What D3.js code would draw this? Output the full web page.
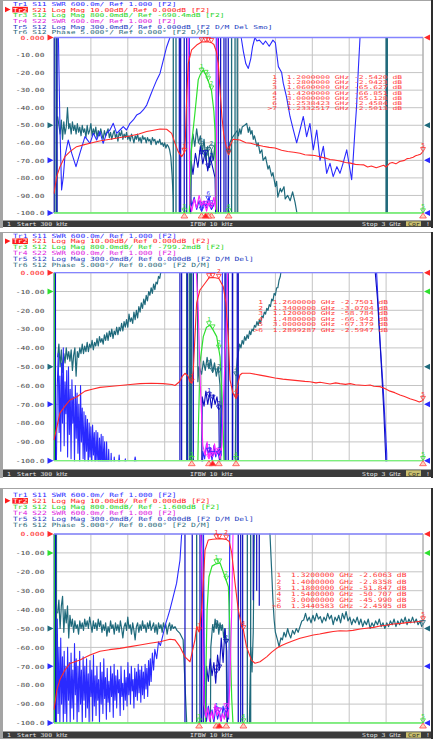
<!DOCTYPE html>
<html><head><meta charset="utf-8">
<script src="https://d3js.org/d3.v7.min.js"></script>
<style>
html,body{margin:0;padding:0;background:#fff;}
svg{display:block;}
text{font-family:"DejaVu Sans Mono","Liberation Mono",monospace;white-space:pre;}
</style></head><body>
<svg id="chart" width="439" height="742"></svg>
<script>
// ---------------- DATA ----------------
const xDomain = [0.0003, 3.0];               // GHz
const yTicks = [0,-10,-20,-30,-40,-50,-60,-70,-80,-90,-100];
const yTickLabels = ["0.000","-10.00","-20.00","-30.00","-40.00","-50.00","-60.00","-70.00","-80.00","-90.00","-100.0"];
const statusTexts = ["1","Start 300 kHz","IFBW 10 kHz","Stop 3 GHz","Cor","!"];

const hdr1 = ["Tr1 S11 SWR 600.0m/ Ref 1.000 [F2]",
 "Tr2 S21 Log Mag 10.00dB/ Ref 0.000dB [F2]",
 "Tr3 S12 Log Mag 800.0mdB/ Ref -690.4mdB [F2]",
 "Tr4 S22 SWR 600.0m/ Ref 1.000 [F2]",
 "Tr5 S12 Log Mag 300.0mdB/ Ref 0.000dB [F2 D/M Del Smo]",
 "Tr6 S12 Phase 5.000\u00b0/ Ref 0.000\u00b0 [F2 D/M]"];
const hdr2 = ["Tr1 S11 SWR 600.0m/ Ref 1.000 [F2]",
 "Tr2 S21 Log Mag 10.00dB/ Ref 0.000dB [F2]",
 "Tr3 S12 Log Mag 800.0mdB/ Ref -799.2mdB [F2]",
 "Tr4 S22 SWR 600.0m/ Ref 1.000 [F2]",
 "Tr5 S12 Log Mag 300.0mdB/ Ref 0.000dB [F2 D/M Del]",
 "Tr6 S12 Phase 5.000\u00b0/ Ref 0.000\u00b0 [F2 D/M]"];
const hdr3 = ["Tr1 S11 SWR 600.0m/ Ref 1.000 [F2]",
 "Tr2 S21 Log Mag 10.00dB/ Ref 0.000dB [F2]",
 "Tr3 S12 Log Mag 800.0mdB/ Ref -1.600dB [F2]",
 "Tr4 S22 SWR 600.0m/ Ref 1.000 [F2]",
 "Tr5 S12 Log Mag 300.0mdB/ Ref 0.000dB [F2 D/M Del]",
 "Tr6 S12 Phase 5.000\u00b0/ Ref 0.000\u00b0 [F2 D/M]"];

// marker tables
const p1MkF = [1.2,1.28,1.06,1.42,3.0,1.2538423,1.2332517];
const p1MkV = [-2.5420,-2.9423,-65.627,-66.851,-65.128,-2.4584,-2.5013];
const p2MkF = [1.26,1.34,1.12,1.48,3.0,1.2899287];
const p2MkV = [-2.7501,-3.0704,-58.784,-66.942,-67.379,-2.5947];
const p3MkF = [1.32,1.40,1.18,1.54,3.0,1.3440583];
const p3MkV = [-2.6063,-2.8358,-51.847,-50.707,-45.990,-2.4595];

// ---------- Panel 1 ----------
const p1S21 = [[0.0003,-89],[0.022,-79.3],[0.049,-73.6],[0.089,-67.9],[0.13,-65],[0.184,-62.2],[0.24,-61.2],[0.293,-60.3],[0.37,-59],[0.455,-58],[0.54,-57],[0.618,-56.1],[0.69,-55],[0.754,-53.6],[0.81,-52.8],[0.862,-52.1],[0.916,-52.3],[0.957,-54.6],[0.984,-60.3],[1.01,-65],[1.038,-67.9],[1.06,-65.6],[1.068,-58.4],[1.079,-33.7],[1.092,-14.7],[1.119,-7.1],[1.16,-4.3],[1.2,-2.54],[1.233,-2.5],[1.254,-2.46],[1.28,-2.94],[1.30,-4],[1.32,-8],[1.336,-14.7],[1.35,-30],[1.365,-45],[1.38,-55],[1.40,-62],[1.42,-66.85],[1.43,-62],[1.455,-58],[1.512,-58.4],[1.56,-60],[1.60,-60.3],[1.634,-61],[1.70,-62],[1.75,-62.6],[1.797,-63],[1.85,-64.2],[1.90,-65],[1.95,-65.4],[2.0,-66],[2.04,-66.8],[2.081,-67],[2.12,-67.2],[2.163,-68],[2.2,-68.6],[2.244,-69.5],[2.28,-69.8],[2.325,-70.4],[2.37,-71.2],[2.41,-71.6],[2.45,-72.3],[2.49,-72.5],[2.52,-72.6],[2.55,-73.8],[2.58,-73.2],[2.62,-74.2],[2.65,-73.5],[2.68,-72.8],[2.70,-73.8],[2.73,-71.6],[2.75,-71.2],[2.78,-72.0],[2.81,-70.7],[2.85,-70.0],[2.87,-69.0],[2.894,-68.8],[2.92,-68.2],[2.94,-67.4],[2.96,-67],[2.98,-66.5],[3.0,-65.1]];
const p1Phase = [[0.03,-45],[0.04,-50],[0.05,-55],[0.06,-47],[0.07,-58],[0.08,-48],[0.09,-55],[0.10,-51],[0.11,-40],[0.12,-52],[0.13,-49],[0.14,-55],[0.15,-48],[0.16,-53],[0.17,-50],[0.18,-55],[0.19,-49],[0.20,-54],[0.21,-51],[0.22,-56],[0.23,-50],[0.24,-54],[0.25,-52],[0.26,-57],[0.27,-50],[0.28,-55],[0.29,-53],[0.30,-49],[0.31,-56],[0.32,-52],[0.33,-55],[0.34,-51],[0.35,-57],[0.36,-53],[0.37,-56],[0.38,-52],[0.39,-55],[0.40,-58],[0.41,-53],[0.42,-56],[0.43,-54],[0.44,-52],[0.45,-57],[0.46,-54],[0.47,-58],[0.48,-55],[0.49,-53],[0.50,-57],[0.51,-55],[0.52,-59],[0.53,-54],[0.54,-56],[0.55,-53],[0.56,-58],[0.57,-55],[0.58,-57],[0.59,-54],[0.60,-58],[0.61,-56],[0.62,-59],[0.63,-55],[0.64,-57],[0.65,-60],[0.66,-56],[0.67,-58],[0.68,-55],[0.69,-59],[0.70,-57],[0.71,-60],[0.72,-56],[0.73,-58],[0.74,-57],[0.75,-60],[0.76,-57],[0.77,-59],[0.78,-58],[0.79,-61],[0.80,-57],[0.81,-59],[0.82,-58],[0.83,-61],[0.84,-59],[0.85,-60],[0.86,-58],[0.87,-61],[0.88,-60],[0.89,-62],[0.90,-60],[0.91,-63],[0.92,-61],[0.93,-62],[0.94,-64],[0.95,-68],[0.96,-78],[0.97,-92],[0.975,-130],[1.11,-130],[1.115,-65],[1.13,-55],[1.145,-62],[1.16,-52],[1.175,-60],[1.19,-56],[1.205,-66],[1.22,-58],[1.235,-70],[1.25,-62],[1.265,-74],[1.28,-64],[1.295,-70],[1.31,-60],[1.32,-130],[1.415,-130],[1.42,-66],[1.43,-60],[1.45,-57],[1.47,-55],[1.49,-53],[1.50,-56],[1.51,-52],[1.52,-55],[1.53,-51],[1.55,-50],[1.567,-49],[1.58,-54],[1.59,-51],[1.60,-55],[1.61,-53],[1.62,-58],[1.63,-56],[1.65,-62],[1.66,-60],[1.675,-66],[1.69,-64],[1.70,-70],[1.72,-68],[1.74,-75],[1.75,-73],[1.77,-79],[1.78,-77],[1.80,-85],[1.81,-82],[1.82,-91],[1.84,-86],[1.85,-88],[1.87,-85],[1.88,-92],[1.90,-90],[1.92,-93],[1.94,-88],[1.96,-94],[1.975,-100],[1.98,-130]];
const p1S11 = [[0.035,5],[0.049,-52.7],[0.062,-86.9],[0.076,-79.3],[0.089,-67.9],[0.116,-58.4],[0.144,-65.9],[0.179,-73.6],[0.211,-65.9],[0.252,-56.5],[0.293,-60.3],[0.32,-54.6],[0.347,-58.4],[0.374,-53.6],[0.40,-60.3],[0.428,-54.6],[0.455,-52.7],[0.482,-48.9],[0.51,-54.6],[0.537,-52.7],[0.563,-50.8],[0.59,-52.7],[0.618,-48.9],[0.645,-47],[0.672,-44.2],[0.699,-43.2],[0.726,-41.3],[0.754,-38.5],[0.78,-33.8],[0.807,-29],[0.835,-24.3],[0.862,-20.5],[0.889,-12.9],[0.916,-5.4],[0.943,0],[0.95,10],[1.10,10],[1.105,-90],[1.12,-96],[1.14,-91],[1.16,-98],[1.18,-93],[1.20,-99],[1.22,-94],[1.24,-97],[1.26,-91],[1.28,-98],[1.30,-95],[1.315,-92],[1.32,10],[1.51,10],[1.522,0],[1.54,-8],[1.56,-15],[1.58,-17.6],[1.60,-12],[1.615,-5],[1.634,0],[1.65,-2],[1.67,-1.5],[1.70,-4],[1.72,-2],[1.75,-5],[1.78,-1.5],[1.80,-3],[1.824,-16.6],[1.851,-20],[1.864,-26],[1.89,-33.7],[1.919,-45],[1.946,-52.7],[1.973,-60],[2.0,-52.7],[2.027,-45],[2.054,-56.5],[2.081,-49],[2.108,-64],[2.136,-52.7],[2.163,-70],[2.19,-62],[2.217,-77.4],[2.244,-71.7],[2.27,-79.3],[2.30,-73.6],[2.325,-77.4],[2.35,-71.7],[2.38,-64],[2.407,-75.5],[2.42,-81],[2.43,-71.7],[2.447,-52.7],[2.46,-39.4],[2.474,-18.5],[2.488,0],[2.50,10]];
const p1Tr5 = [[1.105,-130],[1.115,-70],[1.13,-78],[1.15,-66],[1.17,-74],[1.19,-62],[1.21,-72],[1.23,-65],[1.25,-76],[1.27,-68],[1.29,-74],[1.31,-80],[1.32,-130]];
const p1Green = [[0.0003,-100],[1.10,-100],[1.105,-92],[1.12,-60],[1.146,-43],[1.173,-24],[1.19,-21],[1.214,-18.5],[1.24,-22],[1.26,-26],[1.28,-30],[1.30,-42],[1.309,-53],[1.316,-80],[1.32,-95],[1.325,-100],[3.0,-100]];
const p1Mag = [[1.09,10],[1.10,-60],[1.105,-95],[1.12,-99],[1.14,-92],[1.16,-97],[1.18,-90],[1.20,-96],[1.22,-93],[1.24,-99],[1.26,-94],[1.28,-97],[1.30,-91],[1.315,-98],[1.323,-50],[1.33,10]];
const p1TealSweeps = [[0.008,0,-100],[0.022,0,-100],[0.97,0,-100],[0.992,0,-100],[1.444,0,-100],[1.472,0,-100],[1.49,0,-100],[2.70,0,-100],[2.705,0,-100],[2.71,0,-100]];
const p1BlueSweeps = [[0.0003,0,-100],[0.025,0,-100],[1.019,0,-100],[1.03,0,-100],[1.059,0,-100],[1.079,0,-100],[1.336,0,-100],[1.355,0,-100],[1.382,0,-100],[1.398,0,-100],[1.417,0,-100]];
const p1GreenSweeps = [];

// ---------- Panel 2 ----------
const p2S21 = [[0.0003,-89],[0.024,-82],[0.049,-74.6],[0.089,-71],[0.13,-67.7],[0.187,-66],[0.252,-63],[0.31,-62],[0.374,-61],[0.45,-60.5],[0.537,-60],[0.62,-59.5],[0.699,-59],[0.79,-58.8],[0.886,-59],[0.96,-59.5],[0.984,-60],[1.02,-58],[1.045,-55],[1.065,-53.5],[1.09,-55],[1.105,-58],[1.12,-58.8],[1.133,-51.8],[1.146,-34],[1.16,-16],[1.187,-9.2],[1.228,-5.6],[1.26,-2.75],[1.29,-2.59],[1.31,-2.7],[1.34,-3.07],[1.376,-7.4],[1.398,-16],[1.417,-34],[1.431,-57],[1.455,-64],[1.48,-66.9],[1.495,-59],[1.512,-54.4],[1.53,-53.5],[1.593,-53.5],[1.675,-54.5],[1.72,-55],[1.797,-56],[1.86,-56.6],[1.919,-57],[1.98,-57.4],[2.04,-57.8],[2.081,-58],[2.13,-58.6],[2.163,-58.3],[2.244,-59.2],[2.29,-58.6],[2.325,-59],[2.37,-59.4],[2.407,-59],[2.45,-59.6],[2.53,-60],[2.57,-59.7],[2.60,-60.4],[2.65,-60.6],[2.69,-61.6],[2.732,-63],[2.77,-63.8],[2.813,-65],[2.85,-65.8],[2.894,-67],[2.94,-68],[2.97,-68.8],[3.0,-68]];
const p2Phase = [[0.03,-45],[0.04,-38],[0.05,-50],[0.06,-41],[0.07,-53],[0.08,-43],[0.09,-48],[0.10,-40],[0.11,-46],[0.12,-42],[0.13,-47],[0.14,-41],[0.15,-52],[0.16,-44],[0.17,-40],[0.18,-55],[0.19,-42],[0.20,-45],[0.21,-40],[0.22,-43],[0.23,-38],[0.24,-43],[0.25,-39],[0.26,-42],[0.27,-37],[0.28,-42],[0.29,-38],[0.30,-40],[0.31,-36],[0.32,-41],[0.33,-37],[0.34,-39],[0.35,-35],[0.36,-39],[0.37,-34],[0.38,-37],[0.39,-35],[0.40,-38],[0.41,-33],[0.42,-36],[0.43,-32],[0.44,-36],[0.45,-31],[0.46,-34],[0.47,-30],[0.48,-35],[0.49,-31],[0.50,-33],[0.51,-29],[0.52,-33],[0.53,-29],[0.54,-31],[0.55,-27],[0.56,-31],[0.57,-26],[0.58,-29],[0.59,-25],[0.60,-29],[0.61,-22],[0.62,-26],[0.63,-24],[0.64,-27],[0.65,-21],[0.66,-25],[0.67,-20],[0.68,-24],[0.69,-18],[0.70,-21],[0.71,-16],[0.72,-19],[0.73,-14],[0.74,-17],[0.75,-12],[0.76,-15],[0.77,-10],[0.78,-12],[0.79,-8],[0.80,-11],[0.81,-6],[0.82,-9],[0.83,-5],[0.84,-6],[0.85,-2],[0.86,-3],[0.87,1],[0.88,10],[1.165,10],[1.17,-58],[1.18,-50],[1.20,-54],[1.215,-47],[1.23,-52],[1.245,-45],[1.26,-51],[1.275,-46],[1.29,-53],[1.305,-48],[1.32,-55],[1.335,-50],[1.35,-60],[1.36,-130],[1.47,-130],[1.48,-55],[1.49,-46],[1.50,-42],[1.51,-38],[1.52,-40],[1.53,-36],[1.54,-38],[1.55,-34],[1.56,-36],[1.57,-33],[1.58,-35],[1.59,-31],[1.60,-33],[1.61,-30],[1.62,-31],[1.63,-28],[1.64,-29],[1.65,-26],[1.66,-28],[1.67,-25],[1.68,-27],[1.69,-23],[1.70,-24],[1.71,-21],[1.72,-22],[1.73,-19],[1.74,-20],[1.75,-17],[1.76,-18],[1.77,-14],[1.78,-15],[1.79,-11],[1.80,-12],[1.81,-8],[1.82,-8],[1.83,-4],[1.84,-2],[1.85,3]];
const p2S11 = [[0.02,-100],[0.027,-60],[0.035,-43],[0.042,-85],[0.048,-55],[0.055,-95],[0.062,-48],[0.069,-80],[0.076,-40],[0.083,-92],[0.09,-58],[0.097,-75],[0.104,-52],[0.111,-98],[0.118,-50],[0.125,-86],[0.132,-62],[0.139,-99],[0.146,-57],[0.153,-80],[0.16,-66],[0.167,-102],[0.174,-60],[0.181,-88],[0.188,-64],[0.195,-96],[0.202,-70],[0.209,-104],[0.216,-60],[0.223,-90],[0.23,-72],[0.237,-99],[0.244,-74],[0.251,-103],[0.258,-76],[0.265,-95],[0.272,-78],[0.279,-106],[0.286,-80],[0.293,-98],[0.30,-82],[0.307,-104],[0.314,-81],[0.321,-97],[0.328,-85],[0.335,-108],[0.342,-84],[0.349,-100],[0.356,-85],[0.363,-110],[0.37,-88],[0.377,-102],[0.384,-86],[0.391,-112],[0.398,-87],[0.405,-104],[0.412,-90],[0.42,-112],[0.428,-90],[0.436,-110],[0.445,-94],[0.455,-115],[0.465,-96],[0.475,-115],[0.49,-98],[0.51,-115],[0.53,-97],[0.55,-115],[0.58,-99],[0.62,-115],[0.66,-98],[0.70,-115],[1.205,-115],[1.21,-95],[1.225,-99],[1.24,-91],[1.255,-97],[1.27,-93],[1.285,-100],[1.30,-92],[1.315,-98],[1.33,-94],[1.345,-99],[1.36,-97],[1.37,10],[2.61,10],[2.623,0],[2.65,-36],[2.677,-62],[2.705,-96],[2.71,-130]];
const p2Tr5 = [[1.20,-130],[1.205,-66],[1.22,-71],[1.235,-63],[1.25,-70],[1.265,-64],[1.28,-72],[1.295,-65],[1.31,-70],[1.325,-66],[1.34,-73],[1.35,-130],[1.5,null],[2.60,10],[2.612,0],[2.63,-14],[2.655,-42],[2.68,-72],[2.698,-100],[2.70,-130]];
const p2Green = [[0.0003,-100],[1.17,-100],[1.175,-80],[1.187,-48],[1.214,-34],[1.24,-29],[1.268,-28],[1.29,-30],[1.323,-34],[1.35,-44.7],[1.372,-74],[1.382,-100],[3.0,-100]];
const p2Mag = [[1.15,10],[1.173,-20],[1.19,-60],[1.21,-92],[1.23,-97],[1.245,-90],[1.26,-99],[1.275,-93],[1.29,-98],[1.305,-91],[1.32,-97],[1.335,-94],[1.35,-99],[1.365,-92],[1.376,-70],[1.40,-30],[1.417,10]];
const p2TealSweeps = [[0.006,0,-100],[1.079,0,-100],[1.10,0,-100],[1.111,0,-100],[1.119,0,-100]];
const p2BlueSweeps = [[0.0003,0,-100],[0.012,0,-100],[1.024,0,-100],[1.038,0,-100],[1.084,0,-100],[1.133,0,-100],[1.39,0,-100],[1.398,0,-100],[1.417,0,-100],[1.45,0,-100],[1.453,0,-100],[1.49,0,-100],[1.498,0,-100]];
const p2GreenSweeps = [[0.003,0,-100]];

// ---------- Panel 3 ----------
const p3S21 = [[0.0003,-93],[0.024,-82.5],[0.049,-77],[0.089,-72],[0.13,-68.5],[0.211,-66.7],[0.293,-64],[0.374,-62],[0.45,-61.2],[0.537,-60.5],[0.62,-59.6],[0.699,-58.7],[0.78,-57.8],[0.862,-57],[0.943,-55.7],[0.984,-56],[1.024,-59.6],[1.065,-65],[1.106,-67.6],[1.146,-56],[1.16,-49],[1.18,-51.8],[1.20,-40],[1.214,-26],[1.228,-8.5],[1.254,-3.2],[1.29,-2.8],[1.32,-2.61],[1.344,-2.46],[1.37,-2.6],[1.40,-2.84],[1.425,-4],[1.445,-10],[1.472,-26],[1.498,-40],[1.526,-49],[1.54,-50.7],[1.565,-59.6],[1.605,-66.7],[1.634,-68.4],[1.675,-67.6],[1.729,-65],[1.77,-62.5],[1.81,-60.5],[1.85,-59],[1.892,-57.8],[1.95,-56.4],[2.0,-55.2],[2.05,-54.4],[2.108,-53.4],[2.16,-52.9],[2.217,-52.2],[2.27,-51.6],[2.325,-51.2],[2.38,-51.3],[2.43,-51],[2.49,-50.3],[2.54,-49.9],[2.60,-49.4],[2.65,-48.7],[2.70,-48.3],[2.76,-47.6],[2.82,-47.3],[2.87,-46.9],[2.93,-46.6],[3.0,-46.0]];
const p3Phase = [[0.03,-42],[0.04,-35],[0.05,-50],[0.06,-38],[0.07,-33],[0.08,-52],[0.09,-40],[0.10,-47],[0.11,-38],[0.12,-55],[0.13,-43],[0.14,-49],[0.15,-45],[0.16,-52],[0.17,-46],[0.18,-50],[0.19,-48],[0.20,-53],[0.21,-46],[0.22,-50],[0.23,-47],[0.24,-51],[0.25,-45],[0.26,-49],[0.27,-46],[0.28,-50],[0.29,-44],[0.30,-48],[0.31,-52],[0.32,-46],[0.33,-50],[0.34,-47],[0.35,-51],[0.36,-45],[0.37,-49],[0.38,-46],[0.39,-52],[0.40,-48],[0.41,-51],[0.42,-47],[0.43,-54],[0.44,-49],[0.45,-52],[0.46,-46],[0.47,-50],[0.48,-48],[0.49,-53],[0.50,-47],[0.51,-51],[0.52,-48],[0.53,-52],[0.54,-46],[0.55,-50],[0.56,-55],[0.57,-49],[0.58,-47],[0.59,-51],[0.60,-44],[0.61,-50],[0.62,-48],[0.63,-53],[0.64,-47],[0.65,-51],[0.66,-56],[0.67,-49],[0.68,-47],[0.69,-52],[0.70,-48],[0.71,-51],[0.72,-46],[0.73,-50],[0.74,-48],[0.75,-52],[0.76,-47],[0.77,-50],[0.78,-46],[0.79,-51],[0.80,-49],[0.81,-47],[0.82,-52],[0.83,-48],[0.84,-53],[0.85,-47],[0.86,-50],[0.87,-48],[0.88,-52],[0.89,-47],[0.90,-50],[0.91,-48],[0.92,-53],[0.93,-49],[0.94,-47],[0.95,-51],[0.96,-48],[0.97,-50],[0.984,-49],[1.0,-51],[1.024,-52.6],[1.05,-56],[1.065,-79],[1.079,-100],[1.085,-130],[1.27,-130],[1.275,-60],[1.29,-48],[1.30,-52],[1.31,-45],[1.32,-50],[1.33,-46],[1.34,-53],[1.35,-47],[1.36,-51],[1.37,-48],[1.38,-55],[1.39,-50],[1.40,-58],[1.41,-130],[1.58,-130],[1.60,-60],[1.61,-73],[1.62,-52],[1.63,10],[1.74,10],[1.756,0],[1.77,-20],[1.78,-35],[1.79,-45.5],[1.80,-52],[1.817,-56],[1.83,-59.6],[1.845,-55],[1.857,-56],[1.87,-52],[1.884,-54.5],[1.90,-50],[1.91,-52.7],[1.925,-55],[1.94,-51],[1.955,-53],[1.97,-50],[1.985,-52],[2.0,-49],[2.015,-46],[2.03,-45.5],[2.045,-42],[2.06,-46],[2.075,-44],[2.09,-47],[2.105,-43],[2.12,-46],[2.135,-42],[2.15,-45],[2.165,-43.7],[2.18,-47],[2.195,-44],[2.21,-46],[2.225,-42],[2.24,-45],[2.255,-43],[2.27,-48],[2.285,-44],[2.30,-46],[2.315,-43],[2.33,-47],[2.345,-42],[2.36,-45],[2.375,-41],[2.39,-46],[2.405,-44],[2.42,-48],[2.435,-45],[2.45,-47],[2.465,-44],[2.48,-48],[2.495,-45],[2.51,-49],[2.525,-46],[2.54,-48],[2.555,-45],[2.57,-50],[2.585,-47],[2.60,-49],[2.615,-46],[2.63,-48],[2.645,-45],[2.66,-49],[2.675,-47],[2.69,-50],[2.705,-47],[2.72,-49],[2.735,-46],[2.75,-48],[2.765,-45],[2.78,-49],[2.795,-46],[2.81,-48],[2.825,-45],[2.84,-47],[2.855,-44],[2.87,-48],[2.885,-45],[2.90,-47],[2.915,-44],[2.93,-47],[2.945,-45],[2.96,-48],[2.975,-46],[2.99,-49],[3.0,-48]];
const p3S11 = [[0.02,-100],[0.027,-45],[0.034,-95],[0.041,-60],[0.048,-100],[0.055,-55],[0.062,-90],[0.069,-65],[0.076,-100],[0.083,-62],[0.09,-95],[0.097,-70],[0.104,-100],[0.111,-60],[0.118,-88],[0.125,-68],[0.132,-100],[0.139,-63],[0.146,-92],[0.153,-72],[0.16,-98],[0.167,-58],[0.174,-85],[0.181,-66],[0.188,-100],[0.195,-70],[0.202,-94],[0.209,-62],[0.216,-90],[0.223,-72],[0.23,-100],[0.237,-65],[0.244,-88],[0.251,-70],[0.258,-97],[0.265,-66],[0.272,-92],[0.279,-74],[0.286,-100],[0.293,-67],[0.30,-86],[0.307,-72],[0.314,-99],[0.321,-64],[0.328,-91],[0.335,-75],[0.342,-96],[0.349,-70],[0.356,-88],[0.363,-77],[0.37,-100],[0.377,-68],[0.384,-90],[0.391,-73],[0.398,-95],[0.405,-66],[0.412,-87],[0.419,-76],[0.426,-98],[0.433,-71],[0.44,-89],[0.447,-78],[0.454,-94],[0.461,-70],[0.468,-86],[0.475,-74],[0.482,-97],[0.489,-69],[0.496,-88],[0.503,-75],[0.51,-92],[0.517,-72],[0.524,-84],[0.531,-77],[0.538,-96],[0.545,-70],[0.552,-86],[0.559,-79],[0.566,-93],[0.573,-72],[0.58,-88],[0.587,-76],[0.594,-91],[0.601,-68],[0.608,-85],[0.615,-74],[0.622,-90],[0.629,-70],[0.636,-83],[0.643,-77],[0.65,-92],[0.657,-71],[0.664,-86],[0.671,-73],[0.678,-88],[0.685,-69],[0.692,-84],[0.699,-72],[0.706,-89],[0.713,-70],[0.72,-85],[0.727,-73],[0.734,-87],[0.741,-69],[0.748,-82],[0.755,-71],[0.762,-86],[0.769,-67],[0.776,-80],[0.783,-66],[0.79,-78],[0.80,-63],[0.81,-72],[0.82,-61],[0.835,-66],[0.85,-57],[0.865,-59],[0.889,-52.6],[0.91,-47],[0.925,-44],[0.943,-40],[0.97,-33],[0.997,-26],[1.01,-20],[1.024,-14],[1.038,0],[1.05,10],[1.215,10],[1.225,-95],[1.24,-99],[1.255,-91],[1.27,-97],[1.285,-93],[1.30,-100],[1.315,-92],[1.33,-98],[1.345,-94],[1.36,-99],[1.375,-91],[1.39,-97],[1.405,-93],[1.42,-98],[1.43,10]];
const p3Tr5 = [[1.23,-130],[1.24,-70],[1.255,-78],[1.27,-66],[1.285,-75],[1.30,-68],[1.315,-79],[1.33,-64],[1.345,-72],[1.36,-55],[1.375,-68],[1.39,-50],[1.405,-62],[1.415,-130]];
const p3Green = [[0.0003,-100],[1.23,-100],[1.236,-70],[1.245,-40],[1.26,-22.6],[1.285,-17],[1.31,-16],[1.35,-15.3],[1.39,-22.6],[1.418,-27.9],[1.431,-52],[1.445,-87],[1.455,-100],[3.0,-100]];
const p3Mag = [[1.19,10],[1.20,-10],[1.21,-55],[1.22,-90],[1.235,-97],[1.25,-92],[1.265,-99],[1.28,-94],[1.295,-98],[1.31,-90],[1.325,-96],[1.34,-93],[1.355,-99],[1.37,-95],[1.385,-98],[1.40,-92],[1.415,-97],[1.43,-80],[1.445,-40],[1.458,10]];
const p3TealSweeps = [[0.006,0,-100],[0.02,0,-100],[1.16,0,-100],[1.572,0,-100],[1.599,0,-100]];
const p3BlueSweeps = [[0.0003,0,-100],[0.012,0,-100],[1.065,0,-100],[1.124,0,-100],[1.187,0,-100],[1.2,0,-100],[1.214,0,-100],[1.498,0,-100],[1.518,0,-100],[1.534,0,-100],[1.62,0,-35],[1.648,0,-30],[1.669,0,-38]];
const p3GreenSweeps = [[0.003,0,-100]];

// ---------------- STYLE / LAYOUT ----------------
const C = {s11:"#2a2aff", s21:"#ff2a2a", s12:"#2ee02e", s22:"#ff22ff", tr5:"#0c0cc0", ph:"#1f6a7c"};
const HC = ["#2c2cff","#ff2020","#22d422","#e020e0","#1a3cc0","#2a6b7a"];
const CW = 4.82; // char advance

const panels = [
 {top:0, bottom:228, y0:37.5, y1:213, hdrY:6.2, hdrDy:5.6, hdrSy:0.68, st:[220.5,227], mkX:267.5, mkY:79, mkDy:5.17, mkSy:0.63,
  hdr:hdr1, mkF:p1MkF, mkV:p1MkV, active:7, refs:[[0,C.s21],[-50,C.ph],[-70,C.s11],[-100,C.s11]],
  s21:p1S21, ph:p1Phase, s11:p1S11, tr5:p1Tr5, g:p1Green, m:p1Mag, ts:p1TealSweeps, bs:p1BlueSweeps, gs:p1GreenSweeps},
 {top:232, bottom:478, y0:272.7, y1:460.7, hdrY:237.5, hdrDy:5.9, hdrSy:0.72, st:[469.5,477], mkX:253.5, mkY:304, mkDy:5.5, mkSy:0.67,
  hdr:hdr2, mkF:p2MkF, mkV:p2MkV, active:6, refs:[[0,C.s21],[-10,C.s12],[-50,C.ph],[-70,C.s11],[-100,C.s11]],
  s21:p2S21, ph:p2Phase, s11:p2S11, tr5:p2Tr5, g:p2Green, m:p2Mag, ts:p2TealSweeps, bs:p2BlueSweeps, gs:p2GreenSweeps},
 {top:488, bottom:739, y0:534, y1:723, hdrY:497, hdrDy:6, hdrSy:0.73, st:[731.5,738.5], mkX:271.8, mkY:577.3, mkDy:6.2, mkSy:0.75,
  hdr:hdr3, mkF:p3MkF, mkV:p3MkV, active:6, refs:[[0,C.s21],[-10,C.s12],[-50,C.ph],[-70,C.s11],[-100,C.s11]],
  s21:p3S21, ph:p3Phase, s11:p3S11, tr5:p3Tr5, g:p3Green, m:p3Mag, ts:p3TealSweeps, bs:p3BlueSweeps, gs:p3GreenSweeps}
];

const svg = d3.select("#chart");
const x = d3.scaleLinear().domain(xDomain).range([54, 423]);

function T(sel, px, py, s, fill, anchor, size, sy) {
  return sel.append("text")
    .attr("transform", `translate(${px},${py}) scale(1,${sy||0.72})`)
    .attr("xml:space","preserve")
    .attr("fill", fill).attr("text-anchor", anchor || "start")
    .style("font-size", (size||8) + "px").text(s);
}
function interp(data, f) {
  for (let i = 0; i < data.length - 1; i++) {
    const a = data[i], b = data[i+1];
    if (f >= a[0] && f <= b[0]) {
      if (a[1] === null || b[1] === null) return null;
      const t = (b[0] === a[0]) ? 0 : (f - a[0]) / (b[0] - a[0]);
      return a[1] + t * (b[1] - a[1]);
    }
  }
  return null;
}

panels.forEach((P, pi) => {
  const g = svg.append("g");
  const y = d3.scaleLinear().domain([0, -100]).range([P.y0, P.y1]);
  const line = d3.line().defined(d => d[1] !== null).x(d => x(d[0])).y(d => y(d[1]));
  const boxes = [];
  const hit = b => boxes.some(o => b.x0 < o.x1 && b.x1 > o.x0 && b.y0 < o.y1 && b.y1 > o.y0);

  // frame
  g.append("rect").attr("x",0).attr("y",P.top).attr("width",433).attr("height",P.bottom-P.top).attr("fill","#a4a4a4");
  g.append("rect").attr("x",3).attr("y",P.top+1).attr("width",428).attr("height",P.bottom-P.top-1).attr("fill","#fff");
  g.append("rect").attr("x",431).attr("y",P.top).attr("width",2).attr("height",P.bottom-P.top).attr("fill","#2e2e2e");

  // header
  P.hdr.forEach((s, i) => {
    const by = P.hdrY + i * P.hdrDy;
    boxes.push({x0:13, x1:13 + s.length * CW, y0:by - 5.5, y1:by + 1});
    if (i === 1) {
      g.append("rect").attr("x",12.3).attr("y",by-5.0).attr("width",15.6).attr("height",5.6).attr("fill","#ff1a1a");
      T(g, 13, by, s.slice(0,3), "#ffffff", "start", 8, P.hdrSy);
      T(g, 13 + 4 * CW, by, s.slice(4), HC[i], "start", 8, P.hdrSy);
      g.append("path").attr("d",`M5,${by-5} L10.5,${by-2.3} L5,${by+0.5} Z`).attr("fill","#ff1a1a");
    } else {
      T(g, 13, by, s, HC[i], "start", 8, P.hdrSy);
    }
  });

  // grid
  const gridF = d3.range(11).map(i => xDomain[0] + i * (xDomain[1]-xDomain[0]) / 10);
  g.selectAll(null).data(gridF).enter().append("line")
    .attr("x1", d => x(d)).attr("x2", d => x(d)).attr("y1", P.y0).attr("y2", P.y1)
    .attr("stroke","#c4c4c4").attr("stroke-width",1);
  g.selectAll(null).data(yTicks).enter().append("line")
    .attr("x1", 54).attr("x2", 423).attr("y1", d => y(d)).attr("y2", d => y(d))
    .attr("stroke","#c4c4c4").attr("stroke-width",1);

  // y labels
  yTicks.forEach((t, i) => {
    T(g, 44.5, y(t) + 2.2, yTickLabels[i], i === 0 ? "#ff2020" : "#4a4a4a", "end", 8, 0.7);
  });

  // clip
  const cid = "clip" + pi;
  svg.append("clipPath").attr("id", cid).append("rect")
    .attr("x", 53.5).attr("y", P.y0 - 0.5).attr("width", 370).attr("height", P.y1 - P.y0 + 1);
  const tg = g.append("g").attr("clip-path", `url(#${cid})`);

  function sweeps(arr, col, w) {
    tg.selectAll(null).data(arr).enter().append("line")
      .attr("x1", d => x(d[0])).attr("x2", d => x(d[0]))
      .attr("y1", d => y(d[1])).attr("y2", d => y(d[2]))
      .attr("stroke", col).attr("stroke-width", w);
  }
  function trace(data, col, w) {
    tg.append("path").datum(data).attr("d", line).attr("fill","none")
      .attr("stroke", col).attr("stroke-width", w).attr("stroke-linejoin","round");
  }

  sweeps(P.ts, C.ph, 1.3);
  trace(P.ph, C.ph, 1.2);
  sweeps(P.bs, C.tr5, 1.2);
  trace(P.s11, C.s11, 1.1);
  trace(P.tr5, C.tr5, 1.1);
  sweeps(P.gs, C.s12, 1.1);
  trace(P.g, C.s12, 1.2);
  trace(P.m, C.s22, 1.1);
  trace(P.s21, C.s21, 1.1);

  // plot frame lines
  g.append("line").attr("x1",54).attr("x2",423).attr("y1",P.y0).attr("y2",P.y0).attr("stroke","#8484ff").attr("stroke-width",1.3);
  g.append("line").attr("x1",423).attr("x2",423).attr("y1",P.y0).attr("y2",P.y1).attr("stroke","#a8a8a8").attr("stroke-width",1);
  g.append("line").attr("x1",54).attr("x2",423).attr("y1",P.y1).attr("y2",P.y1).attr("stroke","#7cf07c").attr("stroke-width",1.3);

  // marker table (reserve its area first)
  P.mkF.forEach((f, i) => {
    const idx = i + 1;
    const s = (idx === P.active ? ">" : " ") + idx + "  " + f.toFixed(7) + " GHz " + P.mkV[i].toPrecision(5) + " dB";
    const by = P.mkY + i * P.mkDy;
    boxes.push({x0:P.mkX, x1:P.mkX + s.length * CW, y0:by - 5, y1:by + 0.8});
    T(g, P.mkX, by, s, "#ff3a3a", "start", 8, P.mkSy);
  });

  // marker glyphs on traces
  const traceSet = [[P.s21,C.s21],[P.g,C.s12],[P.ph,C.ph],[P.tr5,C.tr5],[P.s11,C.s11],[P.m,C.s22]];
  traceSet.forEach(([data, col]) => {
    P.mkF.forEach((f, i) => {
      const v = interp(data, f);
      if (v === null || v > 0 || v < -100) return;
      const px = x(f), py = y(v);
      g.append("path").attr("d", `M${px-2.4},${py-4.2} L${px+2.4},${py-4.2} L${px},${py} Z`)
        .attr("fill","none").attr("stroke", col).attr("stroke-width",0.8);
      const b = {x0:px - 2.4, x1:px + 2.4, y0:py - 11.5, y1:py - 3.8};
      if (!hit(b)) {
        boxes.push(b);
        T(g, px, py - 5, String(i+1), col, "middle", 6, 0.9);
      }
    });
  });

  // bottom marker indicators
  P.mkF.forEach((f, i) => {
    const px = x(f), act = (i + 1) === P.active;
    g.append("path").attr("d", `M${px-3.4},${P.y1+5} L${px+3.4},${P.y1+5} L${px},${P.y1} Z`)
      .attr("fill", act ? "#ff2020" : "#ffd2c0").attr("stroke", "#ff4a4a").attr("stroke-width",0.8);
  });

  // reference level triangles
  P.refs.forEach(([v, col]) => {
    const py = y(v);
    g.append("path").attr("d", `M47.5,${py-3} L53.5,${py} L47.5,${py+3} Z`).attr("fill", col);
    g.append("path").attr("d", `M430,${py-3} L424,${py} L430,${py+3} Z`).attr("fill", col);
  });

  // status bar
  const [s0, s1] = P.st;
  g.append("rect").attr("x",3).attr("y",s0).attr("width",428).attr("height",s1-s0).attr("fill","#3b3b3b");
  const sb = s1 - 1.2;
  T(g, 7, sb, statusTexts[0], "#e6e6e6", "start", 6.5, 0.85);
  T(g, 17, sb, statusTexts[1], "#e6e6e6", "start", 6.5, 0.85);
  T(g, 190, sb, statusTexts[2], "#e6e6e6", "start", 6.5, 0.85);
  T(g, 362, sb, statusTexts[3], "#e6e6e6", "start", 6.5, 0.85);
  g.append("rect").attr("x",406).attr("y",s0+0.8).attr("width",15).attr("height",s1-s0-1.6).attr("fill","#c9bf6e");
  T(g, 408, sb, statusTexts[4], "#2a2a2a", "start", 6.5, 0.85);
  T(g, 426, sb, statusTexts[5], "#e6e6e6", "start", 6.5, 0.85);
});
</script></body></html>
